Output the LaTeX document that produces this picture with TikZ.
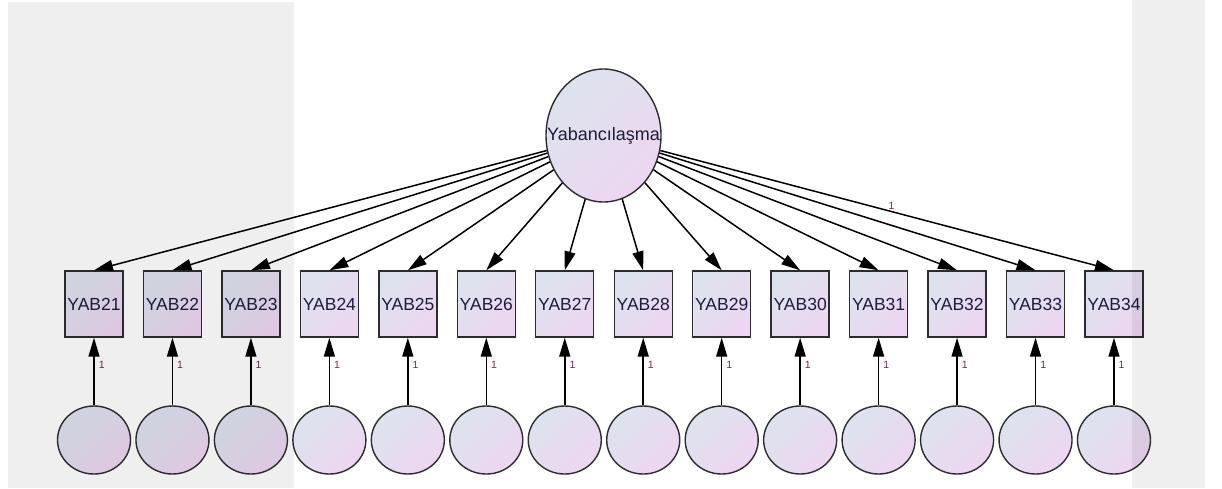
\documentclass[tikz,border=0pt]{standalone}
\usepackage{fontspec}
\setmainfont{Liberation Sans}
\usetikzlibrary{arrows.meta,shapes.geometric}
\definecolor{latA}{RGB}{221,227,238}
\definecolor{latB}{RGB}{237,214,241}
\definecolor{edgegray}{RGB}{45,45,45}
\definecolor{labnavy}{RGB}{28,28,62}
\definecolor{onered}{RGB}{120,40,90}
\tikzset{
  fillgrad/.style={draw=edgegray, line width=1.4pt, top color=latA, bottom color=latB, shading angle=45},
  obs/.style={fillgrad, rectangle, minimum width=58pt, minimum height=66pt, inner sep=0pt,
    text=labnavy, font=\fontsize{17.5}{19}\selectfont},
  err/.style={fillgrad, ellipse, minimum width=73pt, minimum height=68pt, inner sep=0pt},
  lat/.style={fillgrad, ellipse, minimum width=115pt, minimum height=133pt, inner sep=0pt},
  latname/.style={text=labnavy, font=\fontsize{18}{20}\selectfont, inner sep=0pt},
  path/.style={line width=1.5pt, draw=black, -{Triangle[length=19pt,width=11pt]}},
  one/.style={text=onered, font=\fontsize{10.5}{12}\selectfont, inner sep=1pt}
}
\begin{document}
\begin{tikzpicture}[x=1pt,y=-1pt]
  \useasboundingbox (0,0) rectangle (1222,488);
  \fill[white] (0,0) rectangle (1222,488);

  \node[lat, label={[latname]center:Yabancılaşma}] (yab) at (603.5,135.5) {};

  % indicators and their error terms
  \foreach \i [count=\k from 0] in {21,...,34} {
    \node[obs] (y\i) at (94+78.46*\k,304) {YAB\i};
    \node[err] (e\i) at (94+78.46*\k,440) {};
  }

  \begin{scope}
    \foreach \i in {21,...,33}
      \draw[path] (yab) to (y\i.north);
    \draw[path] (yab) to node[one, above, pos=0.51] {1} (y34.north);
    \foreach \i in {21,...,34}
      \draw[path] (e\i.north) to node[one, right, pos=0.6, xshift=3pt] {1} (y\i.south);
  \end{scope}

  % grey side panels
  \fill[black, opacity=0.063] (8,2) rectangle (294,488);
  \fill[black, opacity=0.063] (1132,0) rectangle (1205,488);
\end{tikzpicture}
\end{document}
